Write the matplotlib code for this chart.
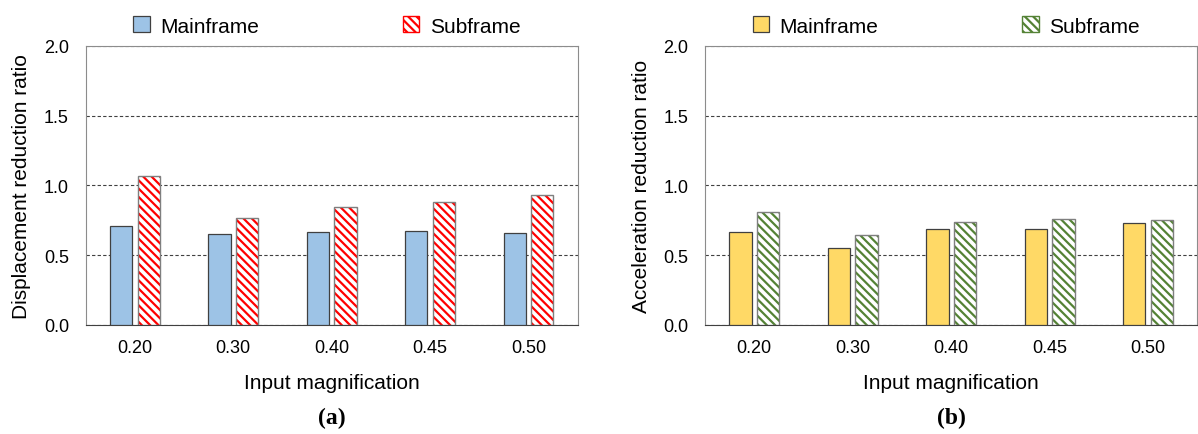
import numpy as np
import matplotlib.pyplot as plt
from matplotlib.patches import Patch

plt.rcParams['font.family'] = ['Liberation Sans', 'DejaVu Sans']
plt.rcParams['hatch.linewidth'] = 1.6

mags = ['0.20', '0.30', '0.40', '0.45', '0.50']                               # input magnification
disp_main = [0.71, 0.655, 0.67, 0.675, 0.66]                                   # displacement ratio, mainframe
disp_sub = [1.065, 0.77, 0.845, 0.88, 0.935]                                   # displacement ratio, subframe
acc_main = [0.67, 0.55, 0.685, 0.685, 0.73]                                    # acceleration ratio, mainframe
acc_sub = [0.81, 0.645, 0.735, 0.76, 0.75]                                     # acceleration ratio, subframe

fig = plt.figure(figsize=(11.98, 4.35), dpi=100)
ax1 = fig.add_axes([0.0715, 0.2506, 0.4107, 0.6414])
ax2 = fig.add_axes([0.5885, 0.2506, 0.411, 0.6414])

x = np.arange(len(mags))
w = 0.225; off = 0.14


def panel(ax, main, sub, fcol, hcol, ylab, tag):
    ax.bar(x - off, main, w, color=fcol, edgecolor='#404040', linewidth=0.9, zorder=3)
    ax.bar(x + off, sub, w, color='white', edgecolor=hcol, hatch='\\\\\\\\', linewidth=0, zorder=3)
    ax.bar(x + off, sub, w, color='none', edgecolor='#7f7f7f', linewidth=1.0, zorder=4)
    ax.set_ylim(0, 2.0)
    ax.set_xlim(-0.5, len(mags) - 0.5)
    ax.set_yticks([0, 0.5, 1.0, 1.5, 2.0])
    ax.set_yticklabels(['0.0', '0.5', '1.0', '1.5', '2.0'])
    ax.set_xticks(x)
    ax.set_xticklabels(mags)
    ax.tick_params(length=0, labelsize=13, pad=10)
    ax.tick_params(axis='y', pad=12)
    ax.yaxis.grid(True, linestyle=(0, (3, 2)), color='#404040', linewidth=0.8, zorder=0)
    for s in ['top', 'right', 'left']:
        ax.spines[s].set_color('#8c8c8c')
    ax.spines['bottom'].set_color('#404040')
    ax.set_ylabel(ylab, fontsize=15, labelpad=9)
    ax.set_xlabel('Input magnification', fontsize=15, labelpad=12)
    h = [Patch(facecolor=fcol, edgecolor='#404040', linewidth=0.9),
         Patch(facecolor='white', edgecolor=hcol, hatch='\\\\\\\\', linewidth=1.0)]
    ax.legend(h, ['Mainframe', 'Subframe'], ncol=2, loc='lower center', bbox_to_anchor=(0.49, 0.985),
              frameon=False, fontsize=15, handlelength=0.8, handleheight=0.8, handletextpad=0.5,
              columnspacing=6.9, borderaxespad=0.3)
    ax.text(0.5, -0.33, tag, transform=ax.transAxes, ha='center', va='center',
            fontsize=17, fontweight='bold', family='Liberation Serif')


panel(ax1, disp_main, disp_sub, '#9dc3e6', '#ff0000', 'Displacement reduction ratio', '(a)')
panel(ax2, acc_main, acc_sub, '#ffd966', '#548235', 'Acceleration reduction ratio', '(b)')

fig.savefig('out.png', dpi=100)
